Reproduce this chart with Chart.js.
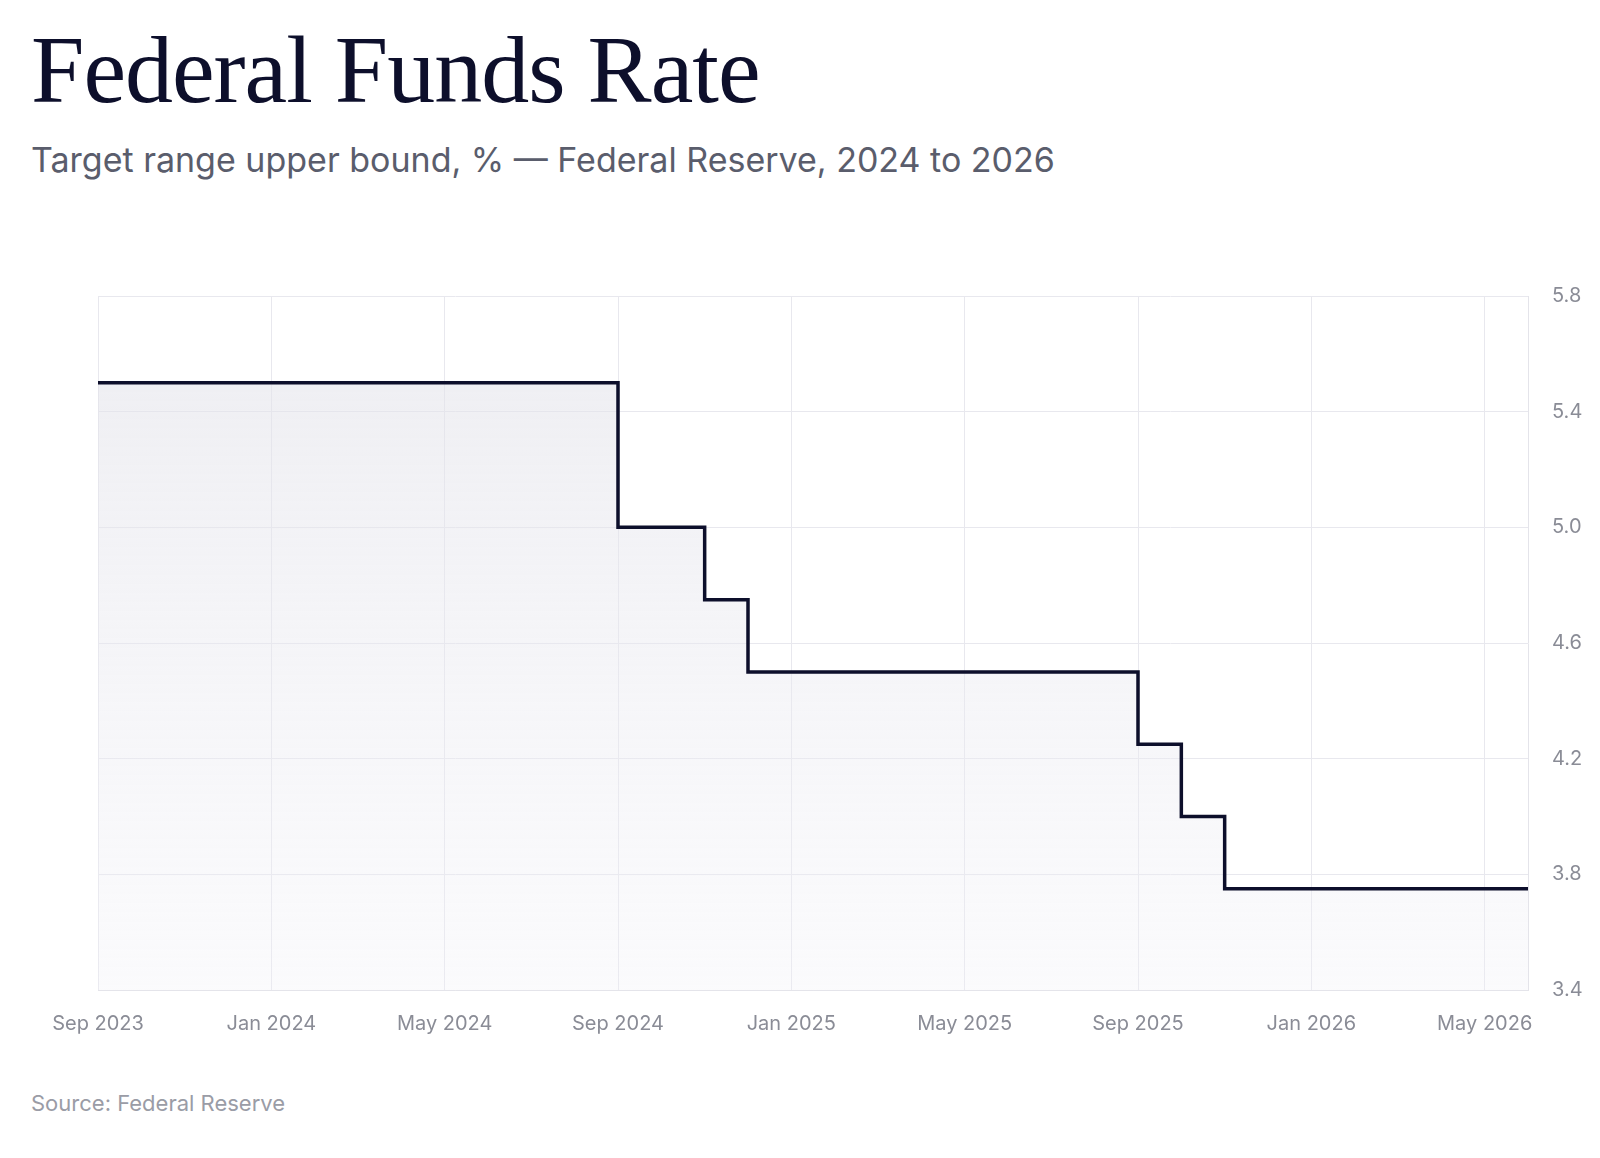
<!DOCTYPE html>
<html><head><meta charset="utf-8">
<script src="https://cdn.jsdelivr.net/npm/chart.js@4"></script>
<style>
body{margin:0;background:#fff;width:1600px;height:1158px;position:relative;overflow:hidden}
h1{position:absolute;left:31px;top:14px;margin:0;font-family:"Liberation Serif",serif;font-weight:normal;font-size:96px;color:#0d0f2b;letter-spacing:-1px}
.sub{position:absolute;left:31px;top:139px;font-family:Inter,"Noto Sans",sans-serif;font-size:34px;color:#5a5d6c}
.src{position:absolute;left:31px;top:1090px;font-family:Inter,"Noto Sans",sans-serif;font-size:22px;color:#9a9ca6}
#wrap{position:absolute;left:0;top:260px;width:1600px;height:798px}
</style></head><body>
<h1>Federal Funds Rate</h1>
<div class="sub">Target range upper bound, % — Federal Reserve, 2024 to 2026</div>
<div id="wrap"><canvas id="canvas"></canvas></div>
<div class="src">Source: Federal Reserve</div>
<script>
// months since Sep 2023
var monthIdx = [0, 12, 14, 15, 24, 25, 26, 33];
var rate = [5.5, 5.0, 4.75, 4.5, 4.25, 4.0, 3.75, 3.75];
var monthNames = ["Jan","Feb","Mar","Apr","May","Jun","Jul","Aug","Sep","Oct","Nov","Dec"];
var yTicks = [3.4, 3.8, 4.2, 4.6, 5.0, 5.4, 5.8];

function monthLabel(i){
  var m = 8 + i;
  return monthNames[m % 12] + " " + (2023 + Math.floor(m / 12));
}

var ctx = document.getElementById('canvas');
new Chart(ctx, {
  type: 'line',
  data: {
    datasets: [{
      data: monthIdx.map(function(x, i){ return {x: x, y: rate[i]}; }),
      stepped: true,
      borderColor: '#0d0f2b',
      borderWidth: 3.5,
      pointRadius: 0,
      fill: 'start',
      backgroundColor: function(c){
        var a = c.chart.chartArea;
        if(!a) return 'rgba(230,230,236,0.5)';
        var g = c.chart.ctx.createLinearGradient(0, a.top, 0, a.bottom);
        g.addColorStop(0, 'rgba(225,225,232,0.6)');
        g.addColorStop(1, 'rgba(240,240,246,0.3)');
        return g;
      }
    }]
  },
  options: {
    responsive: true, maintainAspectRatio: false, animation: false,
    layout: {padding: {left: 98, top: 27, right: 0, bottom: 0}},
    plugins: {legend: {display: false}, tooltip: {enabled: false}},
    scales: {
      x: {
        type: 'linear', min: 0, max: 33,
        afterBuildTicks: function(s){ s.ticks = [0,4,8,12,16,20,24,28,32].map(function(v){return {value:v};}); },
        grid: {color: '#e8e8ee', drawTicks: false},
        border: {color: '#e4e4ea'},
        ticks: {padding: 22, color: '#8a8c96', font: {family: 'Inter', size: 20}, maxRotation: 0,
          callback: function(v){ return monthLabel(v); }}
      },
      y: {
        position: 'right', min: 3.4, max: 5.8,
        afterBuildTicks: function(s){ s.ticks = yTicks.map(function(v){return {value:v};}); },
        afterFit: function(s){ s.width = 72; },
        grid: {color: '#e8e8ee', drawTicks: false},
        border: {color: '#e4e4ea'},
        ticks: {padding: 24, color: '#8a8c96', font: {family: 'Inter', size: 20},
          callback: function(v){ return v.toFixed(1); }}
      }
    }
  }
});
</script>
</body></html>
